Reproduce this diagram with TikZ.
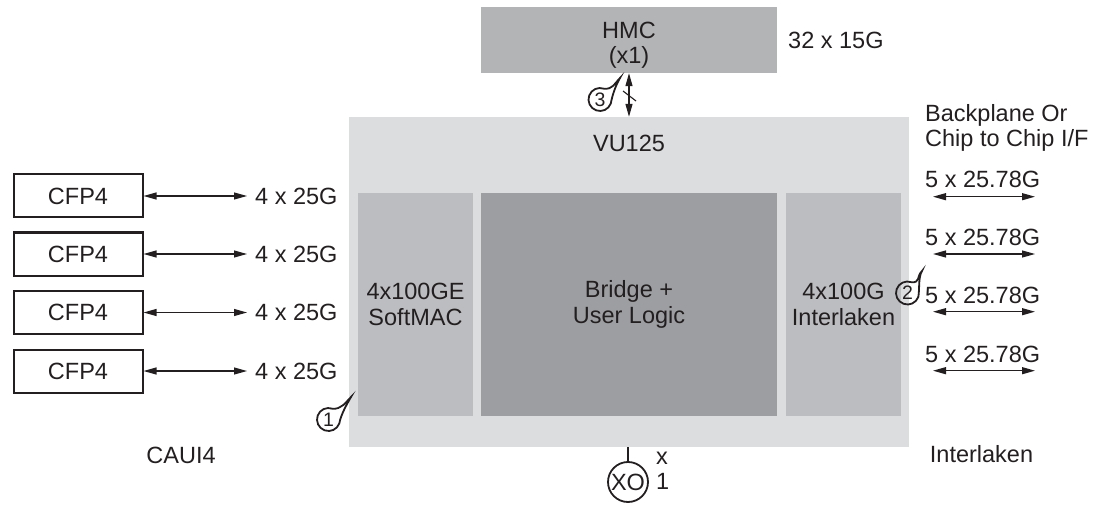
\documentclass[tikz,border=0pt]{standalone}
\usepackage{fontspec}
\setmainfont{Liberation Sans}
\usetikzlibrary{arrows.meta,calc}
\definecolor{outerg}{HTML}{DCDDDF}
\definecolor{sideg}{HTML}{BCBDC0}
\definecolor{bridgeg}{HTML}{9D9EA1}
\definecolor{hmcg}{HTML}{B3B4B6}
\definecolor{ink}{HTML}{231F20}
\newcommand\mycallout[4]{%
  \node[cnum] (#1) at (#2) {#4};
  \draw[callout] ($(#1.center)+(70:11.5)$) arc[start angle=70,end angle=340,radius=11.5]
    .. controls +(80:9) and +(240:8) .. (#3)
    .. controls +(225:8) and +(-5:9) .. cycle;}
\begin{document}
\begin{tikzpicture}[x=1pt,y=1pt, font=\fontsize{23.5}{25.5}\selectfont, text=ink,
  lbl/.style={inner sep=0},
  blk/.style={inner sep=0, align=center},
  panel/.style={inner sep=0, align=center},
  cfpbox/.style={draw=ink, line width=2, minimum width=129, minimum height=43, inner sep=0},
  conn/.style={draw=ink, line width=1.2, {Triangle[length=13,width=7]}-{Triangle[length=13,width=7]}},
  callout/.style={draw=ink, line width=1.8},
  cnum/.style={circle, inner sep=0, minimum size=23, font=\fontsize{19.5}{19.5}\selectfont}]
\useasboundingbox (0,0) rectangle (1096,-508);

% main device
\node[panel, fill=outerg, minimum width=560, minimum height=330] (vu) at (629,-282) {};
\node[lbl] (vutxt) at (629,-143) {VU125};
\node[panel, fill=sideg, minimum width=115, minimum height=223] (mac) at (415.5,-304.5)
  {\fontsize{23.5}{24}\selectfont 4x100GE\\SoftMAC};
\node[panel, fill=bridgeg, minimum width=296, minimum height=223] (bridge) at (629,-304.5)
  {Bridge +\\User Logic};
\node[panel, fill=sideg, minimum width=115, minimum height=223] (ilk) at (843.5,-304.5)
  {\fontsize{23.5}{26}\selectfont 4x100G\\Interlaken};

% HMC
\node[panel, fill=hmcg, minimum width=296, minimum height=66] (hmc) at (629,-40) {};
\node[blk] (hmctxt) at (629,-45) {\fontsize{23.5}{31}\selectfont HMC\\(x1)};
\node[lbl, anchor=west] (hmcrate) at (788,-40.5) {32 x 15G};
\draw[conn] (hmc.south) -- (vu.north);
\coordinate (hmcmid) at ($(hmc.south)!0.5!(vu.north)$);
\draw[ink, line width=1.1] ($(hmcmid)+(-6,4)$) -- ($(hmcmid)+(7,-6)$);
\mycallout{c3}{600,-99.5}{620,-78}{3}

% CFP4 modules
\foreach \i/\y in {1/196,2/254,3/312.5,4/371}{
  \node[cfpbox] (cfp\i) at (78,-\y) {CFP4};
  \node[lbl, anchor=west] (lr\i) at (255,-\y) {4 x 25G};
  \draw[conn] (cfp\i.east) -- ([xshift=-8]lr\i.west);
}
\node[lbl] (caui) at (181,-455) {CAUI4};
\mycallout{c1}{328.5,-419.5}{351,-397}{1}

% right side
\node[blk, align=left, anchor=west] (bp) at (925,-128) {\fontsize{23.5}{22}\selectfont Backplane Or\\Chip to Chip I/F};
\foreach \i/\ty/\ay in {1/179/196.7,2/237.3/254,3/295.6/311.7,4/354/370.7}{
  \node[lbl, anchor=west] (rr\i) at (925,-\ty) {5 x 25.78G};
  \coordinate (ra\i) at (933,-\ay);
  \coordinate (rb\i) at (1035,-\ay);
  \draw[conn] (ra\i) -- (rb\i);
}
\node[lbl] (ilkbot) at (981.5,-454) {Interlaken};
\mycallout{c2}{907.5,-293}{922,-271}{2}

% oscillator
\node[draw=ink, circle, line width=1.8, minimum size=40, inner sep=0] (xo) at (628,-482) {XO};
\draw[ink, line width=1.2] (xo.north |- vu.south) -- (xo.north);
\node[blk, align=left, anchor=west] (xocount) at (656,-471) {x\\1};
\end{tikzpicture}
\end{document}
